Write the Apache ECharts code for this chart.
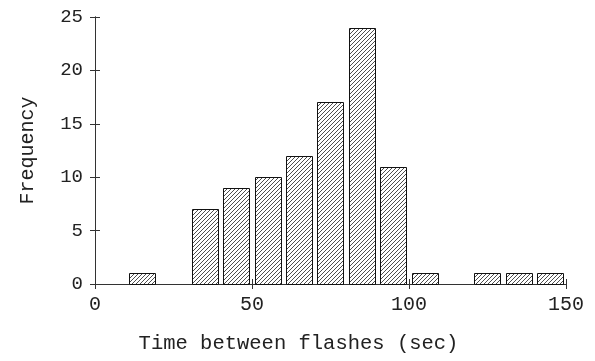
<!DOCTYPE html>
<html>
<head>
<meta charset="utf-8">
<script src="https://cdn.jsdelivr.net/npm/echarts@6/dist/echarts.min.js"></script>
<style>
html,body{margin:0;padding:0;background:#fff;}
#chart{width:595px;height:361px;}
</style>
</head>
<body>
<div id="chart"></div>
<script>
// Histogram data: bin start (sec), bin width 10 sec
var binStarts = [10, 30, 40, 50, 60, 70, 80, 90, 100, 120, 130, 140];
var counts    = [1, 7, 9, 10, 12, 17, 24, 11, 1, 1, 1, 1];
var binWidth = 10;
var xTicks = [0, 50, 100, 150];
var yTicks = [0, 5, 10, 15, 20, 25];

// hatch pattern
var pc = document.createElement('canvas');
pc.width = 4; pc.height = 4;
var g = pc.getContext('2d');
g.fillStyle = '#ffffff';
g.fillRect(0, 0, 4, 4);
g.strokeStyle = '#3a3a3a';
g.lineWidth = 0.9;
g.beginPath();
g.moveTo(-1, 5); g.lineTo(5, -1);
g.moveTo(-1, 1); g.lineTo(1, -1);
g.moveTo(3, 5); g.lineTo(5, 3);
g.stroke();

var chart = echarts.init(document.getElementById('chart'), null, {renderer: 'canvas'});
var font = '"Liberation Mono", "Courier New", monospace';
var axisCol = '#333';

var data = binStarts.map(function (s, i) { return [s, counts[i]]; });

chart.setOption({
  animation: false,
  backgroundColor: '#fff',
  grid: {left: 95, right: 29, top: 17, bottom: 77, containLabel: false},
  xAxis: [{
    type: 'value', min: xTicks[0], max: xTicks[xTicks.length - 1], interval: 50,
    position: 'bottom',
    name: 'Time between flashes (sec)', nameLocation: 'middle', nameGap: 49,
    nameTextStyle: {fontFamily: font, fontSize: 20.5, color: '#222', padding: [0, 64, 0, 0]},
    axisLine: {show: true, lineStyle: {color: axisCol, width: 1}},
    axisTick: {show: true, inside: true, length: 5, lineStyle: {color: axisCol}},
    axisLabel: {fontFamily: font, fontSize: 20, color: '#222', margin: 11},
    splitLine: {show: false}
  }, {
    type: 'value', min: xTicks[0], max: xTicks[xTicks.length - 1], interval: 50,
    position: 'top',
    axisLine: {show: true, lineStyle: {color: axisCol, width: 1}},
    axisTick: {show: true, inside: true, length: 5, lineStyle: {color: axisCol}},
    axisLabel: {show: false},
    splitLine: {show: false}
  }],
  yAxis: [{
    type: 'value', min: yTicks[0], max: yTicks[yTicks.length - 1], interval: 5,
    position: 'left',
    name: 'Frequency', nameLocation: 'middle', nameGap: 57,
    nameTextStyle: {fontFamily: font, fontSize: 20, color: '#222'},
    axisLine: {show: true, lineStyle: {color: axisCol, width: 1}},
    axisTick: {show: true, inside: true, length: 5, lineStyle: {color: axisCol}},
    axisLabel: {fontFamily: font, fontSize: 19, color: '#222', margin: 12},
    splitLine: {show: false}
  }, {
    type: 'value', min: yTicks[0], max: yTicks[yTicks.length - 1], interval: 5,
    position: 'right',
    axisLine: {show: true, lineStyle: {color: axisCol, width: 1}},
    axisTick: {show: true, inside: true, length: 5, lineStyle: {color: axisCol}},
    axisLabel: {show: false},
    splitLine: {show: false}
  }],
  series: [{
    type: 'custom',
    xAxisIndex: 0, yAxisIndex: 0,
    data: data,
    renderItem: function (params, api) {
      var s = api.value(0), v = api.value(1);
      var p0 = api.coord([s, v]);
      var p1 = api.coord([s + binWidth, 0]);
      var gap = 2.5;
      var x0 = p0[0] + gap, x1 = p1[0] - gap;
      return {
        type: 'rect',
        shape: {x: Math.round(x0) + 0.5, y: Math.round(p0[1]) + 0.5, width: Math.round(x1 - x0), height: Math.round(p1[1] - p0[1])},
        style: {fill: {image: pc, repeat: 'repeat'}, stroke: '#111', lineWidth: 1}
      };
    }
  }]
});
</script>
</body>
</html>
